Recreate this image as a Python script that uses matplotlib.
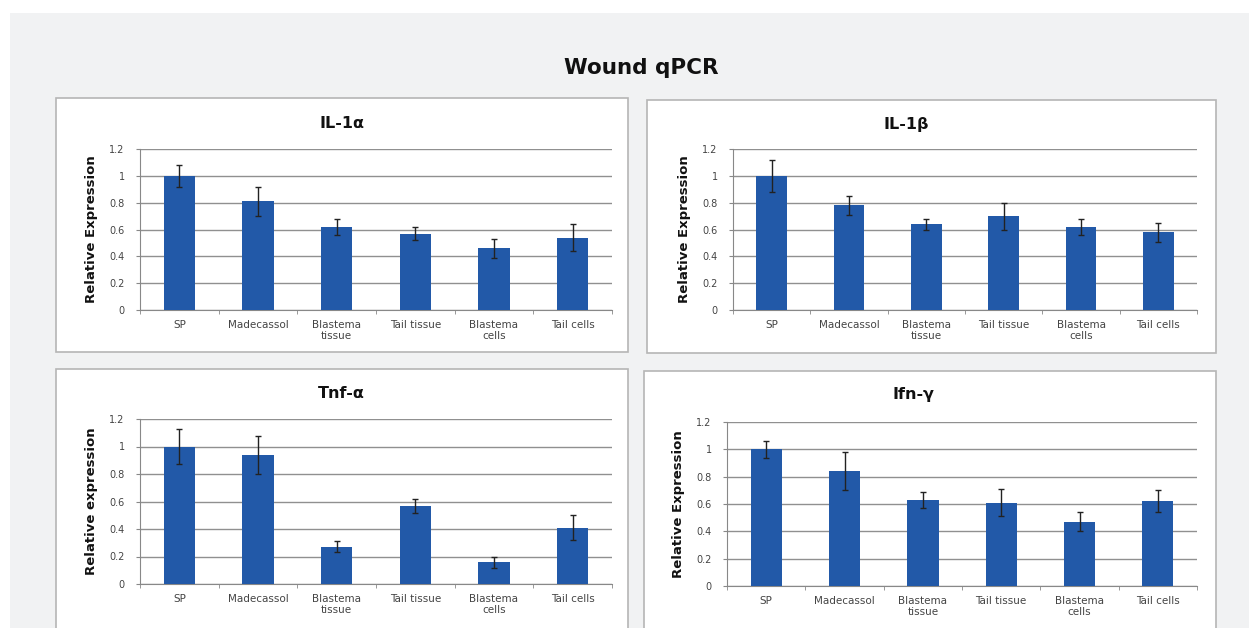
import matplotlib
matplotlib.use('Agg')
import matplotlib.pyplot as plt
from matplotlib.patches import Rectangle

W, H = 1249, 628

categories = ["SP", "Madecassol", "Blastema\ntissue", "Tail tissue", "Blastema\ncells", "Tail cells"]
y_ticks = [0, 0.2, 0.4, 0.6, 0.8, 1.0, 1.2]
y_tick_labels = ["0", "0.2", "0.4", "0.6", "0.8", "1", "1.2"]

il1a = [1.00, 0.81, 0.62, 0.57, 0.46, 0.54]
il1a_err = [0.08, 0.11, 0.06, 0.05, 0.07, 0.10]
il1b = [1.00, 0.78, 0.64, 0.70, 0.62, 0.58]
il1b_err = [0.12, 0.07, 0.04, 0.10, 0.06, 0.07]
tnfa = [1.00, 0.94, 0.27, 0.57, 0.16, 0.41]
tnfa_err = [0.13, 0.14, 0.04, 0.05, 0.04, 0.09]
ifng = [1.00, 0.84, 0.63, 0.61, 0.47, 0.62]
ifng_err = [0.06, 0.14, 0.06, 0.10, 0.07, 0.08]

titles = ["IL-1α", "IL-1β", "Tnf-α", "Ifn-γ"]
ylabels = ["Relative Expression", "Relative Expression", "Relative expression", "Relative Expression"]

BAR = '#2259a8'
BG = '#f1f2f3'

plt.rcParams['font.family'] = ['DejaVu Sans']


def px_rect(x0, y0, x1, y1):
    # pixel box (top-left origin) -> figure coords
    return (x0 / W, 1 - y1 / H, (x1 - x0) / W, (y1 - y0) / H)


fig = plt.figure(figsize=(W / 100, H / 100), dpi=100, facecolor=BG)

# white strips at top and left like the screenshot
fig.add_artist(Rectangle((0, 1 - 13 / H), 1, 13 / H, transform=fig.transFigure,
                         facecolor='white', edgecolor='none', zorder=-2))
fig.add_artist(Rectangle((0, 0), 10 / W, 1, transform=fig.transFigure,
                         facecolor='white', edgecolor='none', zorder=-2))

# panel frames
panels = [(56, 98, 628, 352), (647, 100, 1216, 353), (56, 369, 628, 640), (644, 371, 1216, 640)]
for p in panels:
    x, y, w, h = px_rect(*p)
    fig.add_artist(Rectangle((x, y), w, h, transform=fig.transFigure,
                             facecolor='white', edgecolor='#b5b5b5', lw=1.2, zorder=-1))

fig.text(641 / W, 1 - 68 / H, "Wound qPCR", ha='center', va='center',
         fontsize=15.5, fontweight='bold', color='#111111')

axes_px = [(140, 149, 612, 310), (733, 149, 1197, 310), (140, 419, 612, 584), (727, 422, 1197, 586)]
title_px = [(342, 124), (906, 124), (341, 393), (913, 395)]
series = [(il1a, il1a_err), (il1b, il1b_err), (tnfa, tnfa_err), (ifng, ifng_err)]

for i in range(4):
    ax = fig.add_axes(px_rect(*axes_px[i]))
    ax.set_zorder(2)
    vals, errs = series[i]
    xs = range(len(categories))
    ax.bar(xs, vals, width=0.4, color=BAR, zorder=3)
    ax.errorbar(xs, vals, yerr=errs, fmt='none', ecolor='#222222', elinewidth=1,
                capsize=2.5, capthick=1, zorder=4)
    ax.set_xlim(-0.5, len(categories) - 0.5)
    ax.set_ylim(0, 1.2)
    ax.set_yticks(y_ticks)
    ax.set_yticklabels(y_tick_labels, fontsize=7, color='#444444')
    ax.set_xticks(list(xs))
    ax.set_xticklabels(categories, fontsize=7.5, color='#444444', linespacing=1.15)
    ax.tick_params(axis='x', length=0, pad=7)
    ax.set_xticks([k + 0.5 for k in range(-1, len(categories))], minor=True)
    ax.tick_params(axis='x', which='minor', length=3, color='#888888')
    ax.tick_params(axis='y', length=3, color='#888888', pad=8)
    ax.grid(axis='y', color='#909090', lw=1, zorder=0)
    for s in ['top', 'right']:
        ax.spines[s].set_visible(False)
    ax.spines['left'].set_color('#888888')
    ax.spines['bottom'].set_color('#888888')
    ax.set_facecolor('white')
    ax.set_ylabel(ylabels[i], fontsize=9.5, fontweight='bold', labelpad=8,
                  color='#111111')
    tx, ty = title_px[i]
    fig.text(tx / W, 1 - ty / H, titles[i], ha='center', va='center',
             fontsize=11.5, fontweight='bold', color='#111111')

plt.savefig("out.png", dpi=100, facecolor=BG)
plt.close()
